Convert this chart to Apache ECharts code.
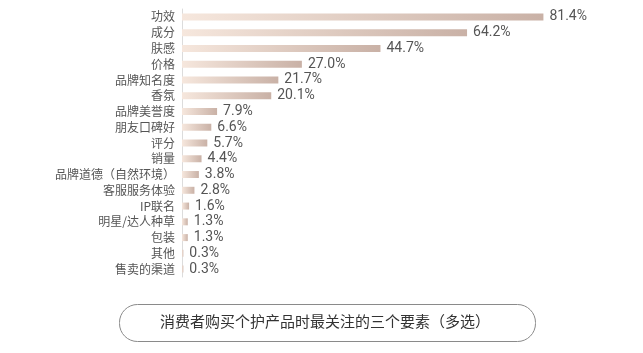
<!DOCTYPE html>
<html>
<head>
<meta charset="utf-8">
<script src="https://cdn.jsdelivr.net/npm/echarts@6/dist/echarts.min.js"></script>
<style>
  html, body { margin: 0; padding: 0; background: #fff; }
  #chart { width: 643px; height: 353px; }
</style>
</head>
<body>
<div id="chart"></div>
<script>
// 关注要素（从上到下）
const factors = ['功效', '成分', '肤感', '价格', '品牌知名度', '香氛', '品牌美誉度', '朋友口碑好', '评分', '销量',
  '品牌道德（自然环境）', '客服服务体验', 'IP联名', '明星/达人种草', '包装', '其他', '售卖的渠道']
const shares = [81.4, 64.2, 44.7, 27.0, 21.7, 20.1, 7.9, 6.6, 5.7, 4.4, 3.8, 2.8, 1.6, 1.3, 1.3, 0.3, 0.3]
const titleText = '消费者购买个护产品时最关注的三个要素（多选）'

const myChart = echarts.init(document.getElementById('chart'))

const option = {
  animation: false,
  grid: { left: 182, right: 17, top: 9, bottom: 76 },
  xAxis: {
    type: 'value',
    min: 0,
    max: 100,
    show: false
  },
  yAxis: {
    type: 'category',
    inverse: true,
    data: factors,
    axisLine: { lineStyle: { color: '#dcdcdc', width: 1 } },
    axisTick: { show: false },
    axisLabel: {
      color: '#555',
      fontSize: 12,
      margin: 7,
      fontFamily: 'Noto Sans CJK SC'
    }
  },
  series: [
    {
      type: 'bar',
      data: shares,
      barWidth: 7,
      itemStyle: {
        color: new echarts.graphic.LinearGradient(0, 0, 1, 0, [
          { offset: 0, color: '#f6e7dd' },
          { offset: 1, color: '#c9b1a6' }
        ])
      },
      label: {
        show: true,
        position: 'right',
        distance: 6,
        color: '#555',
        fontSize: 14,
        fontFamily: 'Roboto',
        formatter: (p) => p.value.toFixed(1) + '%'
      }
    }
  ],
  graphic: [
    {
      type: 'rect',
      left: 117,
      top: 302,
      shape: { width: 416, height: 37, r: 18 },
      style: { fill: 'none', stroke: '#8a8a8a', lineWidth: 1 }
    },
    {
      type: 'text',
      x: 325,
      y: 321,
      style: {
        text: titleText,
        fill: '#333',
        fontSize: 15,
        fontFamily: 'Noto Sans CJK SC',
        align: 'center',
        verticalAlign: 'middle'
      }
    }
  ]
}

myChart.setOption(option)

window.addEventListener('resize', () => {
  myChart.resize()
})
</script>
</body>
</html>
